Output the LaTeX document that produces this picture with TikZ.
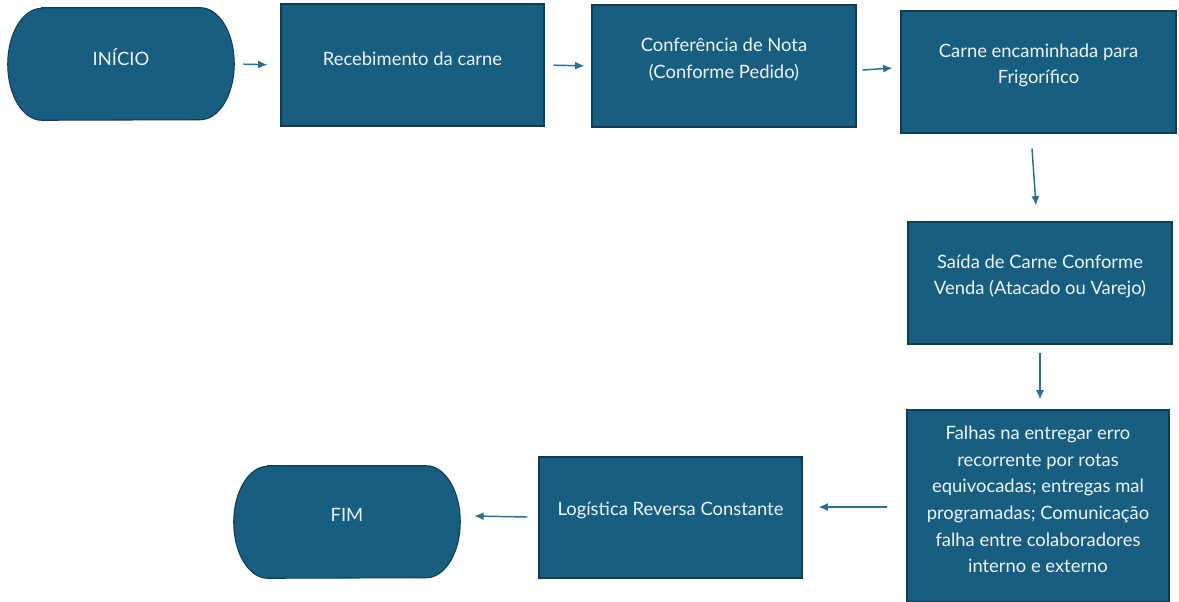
\documentclass[tikz,border=0pt]{standalone}
\usepackage{fontspec}
\setmainfont{Lato}
\usetikzlibrary{calc,arrows.meta}
\definecolor{boxfill}{HTML}{175E80}
\definecolor{boxline}{HTML}{0F3D52}
\definecolor{txt}{HTML}{EEF4F7}
\definecolor{arr}{HTML}{2A6D8E}
\tikzset{
  box/.style={rectangle, fill=boxfill, draw=boxline, line width=0.8pt, inner sep=0pt},
  term/.style={rectangle, inner sep=0pt},
  lbl/.style={text=txt, align=center, font=\fontsize{13.8}{20}\selectfont, yshift=5pt},
  conn/.style={draw=arr, line width=1.1pt, -{Latex[length=7pt,width=6pt]}}
}
\newcommand{\stadium}[1]{%
  \fill[boxfill, draw=boxline, line width=0.8pt]
    ($(#1.north west)+(34,0)$) -- ($(#1.north east)+(-34,0)$)
    arc[start angle=90, end angle=-90, x radius=34, y radius=-56]
    -- ($(#1.south west)+(34,0)$)
    arc[start angle=270, end angle=90, x radius=34, y radius=-56] -- cycle;}
\begin{document}
\begin{tikzpicture}[x=0.75pt,y=-0.75pt]
\useasboundingbox (0,0) rectangle (1179,601);
% terminals
\node[term, minimum width=226*0.75pt, minimum height=112*0.75pt] (inicio) at (121,64) {};
\node[term, minimum width=226*0.75pt, minimum height=112*0.75pt] (fim) at (347,522) {};
\stadium{inicio}
\stadium{fim}
\node[lbl] (inicioT) at (inicio.center) {INÍCIO};
\node[lbl] (fimT) at (fim.center) {FIM};
% process boxes
\node[box, minimum width=263*0.75pt, minimum height=122*0.75pt, label={[lbl]center:Recebimento da carne}] (rec) at (412.5,65) {};
\node[box, minimum width=264*0.75pt, minimum height=122*0.75pt, label={[lbl]center:{Conferência de Nota\\(Conforme Pedido)}}] (conf) at (724,66) {};
\node[box, minimum width=275*0.75pt, minimum height=122*0.75pt, label={[lbl]center:{Carne encaminhada para\\Frigorífico}}] (carne) at (1038.5,72) {};
\node[box, minimum width=264*0.75pt, minimum height=122*0.75pt, label={[lbl]center:{Saída de Carne Conforme\\Venda (Atacado ou Varejo)}}] (saida) at (1040,283) {};
\node[box, minimum width=262*0.75pt, minimum height=192*0.75pt, label={[lbl]center:{Falhas na entregar erro\\recorrente por rotas\\equivocadas; entregas mal\\programadas; Comunicação\\falha entre colaboradores\\interno e externo}}] (falhas) at (1038,506) {};
\node[box, minimum width=263*0.75pt, minimum height=121*0.75pt, label={[lbl]center:Logística Reversa Constante}] (log) at (670.5,517.5) {};
% connectors
\draw[conn, shorten <=9*0.75pt, shorten >=13*0.75pt] (inicio.east) -- (rec.west);
\draw[conn, shorten <=9*0.75pt, shorten >=7*0.75pt] (rec.east) -- (conf.west);
\draw[conn] ($(conf.east)+(6,4)$) -- ($(carne.west)+(-8,-4)$);
\draw[conn] ($(carne.south)+(-6.5,15)$) -- ($(saida.north)+(-4,-16)$);
\draw[conn, shorten <=8*0.75pt, shorten >=10*0.75pt] (saida.south) -- (saida.south |- falhas.north);
\draw[conn] ($(falhas.west)+(-19,1)$) -- ($(log.east)+(16,-10.5)$);
\draw[conn] ($(log.west)+(-11,-0.5)$) -- ($(fim.east)+(14,-6)$);
\end{tikzpicture}
\end{document}
